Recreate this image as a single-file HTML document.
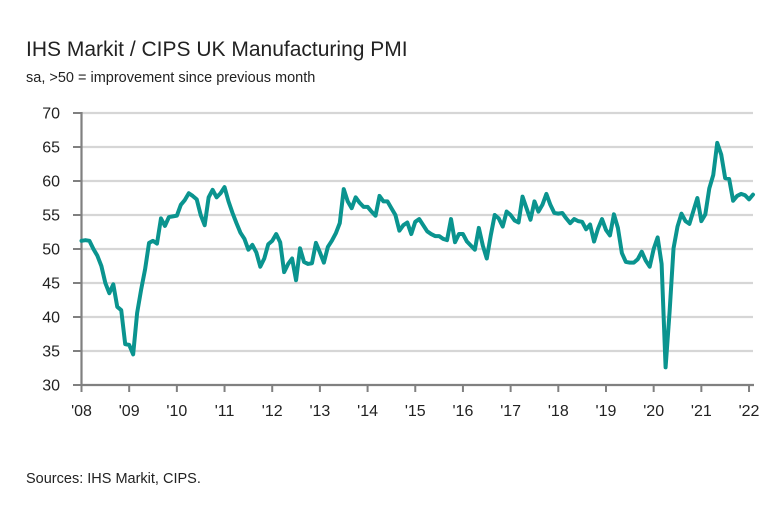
<!DOCTYPE html>
<html><head><meta charset="utf-8"><style>
body{margin:0;background:#fff;}
svg{display:block;font-family:"Liberation Sans",sans-serif;}
</style></head><body>
<svg id="chart" width="778" height="509">
<text x="26" y="56" font-size="21" fill="#222">IHS Markit / CIPS UK Manufacturing PMI</text>
<text x="26" y="82" font-size="14.5" fill="#222">sa, &gt;50 = improvement since previous month</text>
<text x="26" y="483" font-size="14.5" fill="#222">Sources: IHS Markit, CIPS.</text>
<g id="grid"></g><g id="axes"></g><g id="series"></g>
</svg>
<script>
const yTicks=[30,35,40,45,50,55,60,65,70];
const xTickLabels=["'08","'09","'10","'11","'12","'13","'14","'15","'16","'17","'18","'19","'20","'21","'22"];
const pmi2008=[51.2,51.3,51.2,50.0,49.0,47.5,45.0,43.5,44.8,41.5,41.0,36.0];
const pmi2009=[35.9,34.5,40.6,44.0,47.0,50.9,51.2,50.8,54.5,53.4,54.7,54.8];
const pmi2010=[54.9,56.5,57.2,58.2,57.8,57.3,55.0,53.5,57.6,58.7,57.6,58.2];
const pmi2011=[59.1,57.0,55.3,53.8,52.4,51.5,49.9,50.6,49.5,47.4,48.6,50.7];
const pmi2012=[51.2,52.2,51.0,46.6,47.8,48.6,45.4,50.1,48.1,47.8,47.9,50.9];
const pmi2013=[49.5,48.0,50.3,51.2,52.3,53.8,58.8,57.0,56.0,57.6,56.8,56.2];
const pmi2014=[56.2,55.5,54.9,57.8,57.0,57.0,56.0,55.0,52.7,53.5,53.9,52.2];
const pmi2015=[54.0,54.4,53.5,52.6,52.2,51.9,51.9,51.5,51.3,54.4,51.0,52.2];
const pmi2016=[52.2,51.1,50.5,49.9,53.1,50.5,48.6,52.0,55.0,54.5,53.3,55.5];
const pmi2017=[55.0,54.2,53.9,57.7,56.0,54.3,57.0,55.5,56.5,58.1,56.5,55.3];
const pmi2018=[55.2,55.3,54.5,53.8,54.4,54.1,54.0,52.9,53.6,51.1,53.0,54.4];
const pmi2019=[52.8,52.0,55.1,53.1,49.4,48.1,48.0,48.0,48.5,49.6,48.3,47.4];
const pmi2020=[50.0,51.7,47.8,32.6,40.7,50.1,53.3,55.2,54.1,53.7,55.6,57.5];
const pmi2021=[54.1,55.1,58.9,60.9,65.6,63.9,60.4,60.3,57.1,57.8,58.1,57.9];
const pmi2022=[57.3,58.0];
const values=[].concat(pmi2008,pmi2009,pmi2010,pmi2011,pmi2012,pmi2013,pmi2014,pmi2015,pmi2016,pmi2017,pmi2018,pmi2019,pmi2020,pmi2021,pmi2022);

const NS="http://www.w3.org/2000/svg";
const x0=81.5,x1=753,yTop=113,yBot=385,yMin=30,yMax=70;
const n=values.length;
function xScale(i){return x0+i*(x1-x0)/(n-1);}
function yScale(v){return yBot-(v-yMin)*(yBot-yTop)/(yMax-yMin);}
function mk(tag,attrs,parent){const e=document.createElementNS(NS,tag);for(const k in attrs)e.setAttribute(k,attrs[k]);parent.appendChild(e);return e;}
const grid=document.getElementById('grid'),axes=document.getElementById('axes'),series=document.getElementById('series');

yTicks.forEach(t=>{
  const y=yScale(t);
  if(t>yMin){const g=mk('line',{x1:x0,x2:x1,y1:y,y2:y,stroke:'#d6d6d6','stroke-width':2.2},grid);
  
  }
  const tk=mk('line',{x1:73,x2:x0,y1:y,y2:y,stroke:'#808080','stroke-width':2},axes);
  
  
  const tx=mk('text',{x:60,y:y+5.5,'text-anchor':'end','font-size':16,fill:'#222'},axes);
  tx.textContent=t;
  
  
});
const ya=mk('line',{x1:x0,x2:x0,y1:yTop-1,y2:yBot,stroke:'#808080','stroke-width':2.2},axes);


const xa=mk('line',{x1:x0-1,x2:x1+1,y1:yBot,y2:yBot,stroke:'#808080','stroke-width':2.2},axes);


xTickLabels.forEach((lab,k)=>{
  const x=xScale(k*12);
  const tk=mk('line',{x1:x,x2:x,y1:yBot,y2:yBot+7,stroke:'#808080','stroke-width':2},axes);
  
  
  const tx=mk('text',{x:x,y:yBot+31,'text-anchor':'middle','font-size':16,fill:'#222'},axes);
  tx.textContent=lab;
  
  
});
let d='';
values.forEach((v,i)=>{d+=(i?'L':'M')+xScale(i).toFixed(2)+','+yScale(v).toFixed(2);});
const p=mk('path',{d:d,fill:'none',stroke:'#0a948f','stroke-width':4,'stroke-linejoin':'round','stroke-linecap':'round'},series);


</script>
</body></html>
